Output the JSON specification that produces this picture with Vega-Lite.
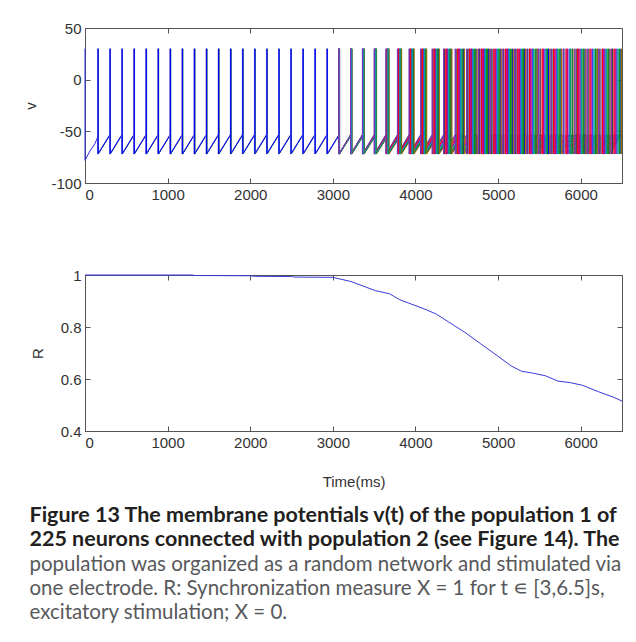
{
  "$schema": "https://vega.github.io/schema/vega-lite/v6.json",
  "padding": {"left": 23, "top": 20, "right": 8, "bottom": 4},
  "background": "white",
  "spacing": 64,
  "config": {
    "font": "Liberation Sans",
    "view": {"stroke": "#555", "strokeWidth": 1},
    "axis": {"domainColor": "#555", "tickColor": "#555", "tickSize": -5, "labelColor": "#333", "labelFont": "Liberation Sans", "labelFontSize": 15, "titleFont": "Liberation Sans", "titleFontSize": 15, "titleFontWeight": "normal", "titleColor": "#333", "grid": false, "labelPadding": 9}
  },
  "title": {
    "text": ["Figure 13 The membrane potentials v(t) of the population 1 of", "225 neurons connected with population 2 (see Figure 14). The"],
    "subtitle": ["population was organized as a random network and stimulated via", "one electrode. R: Synchronization measure X = 1 for t ∊  [3,6.5]s,", "excitatory stimulation; X = 0."],
    "orient": "bottom", "anchor": "start", "frame": "bounds", "offset": 15, "dx": 6,
    "font": "Lato", "fontSize": 21.5, "fontWeight": "bold", "color": "#231f20", "lineHeight": 24,
    "subtitleFont": "Lato", "subtitleFontSize": 20.5, "subtitleFontWeight": "normal", "subtitleColor": "#58595b", "subtitleLineHeight": 24, "subtitlePadding": 5
  },
  "datasets": {
    "init": [{"t": 0, "v": 30}, {"t": 0, "v": -78}, {"t": 60, "v": -69}, {"t": 120, "v": -62}, {"t": 157, "v": -55}],
    "r": [
      {"t": 0, "R": 1.0}, {"t": 1300, "R": 1.0}, {"t": 1330, "R": 0.998}, {"t": 2000, "R": 0.997}, {"t": 2050, "R": 0.995}, {"t": 2500, "R": 0.994}, {"t": 2540, "R": 0.992}, {"t": 3000, "R": 0.991},
      {"t": 3219, "R": 0.975}, {"t": 3513, "R": 0.94}, {"t": 3686, "R": 0.928}, {"t": 3808, "R": 0.905}, {"t": 4103, "R": 0.87}, {"t": 4251, "R": 0.85}, {"t": 4398, "R": 0.82},
      {"t": 4595, "R": 0.78}, {"t": 4791, "R": 0.735}, {"t": 4988, "R": 0.69}, {"t": 5160, "R": 0.65}, {"t": 5283, "R": 0.63}, {"t": 5430, "R": 0.622}, {"t": 5577, "R": 0.612},
      {"t": 5725, "R": 0.592}, {"t": 5872, "R": 0.586}, {"t": 6020, "R": 0.576}, {"t": 6216, "R": 0.551}, {"t": 6413, "R": 0.528}, {"t": 6500, "R": 0.515}
    ],
    "spikes": [
      {"n":1,"t":157},{"n":1,"t":303},{"n":1,"t":449},{"n":1,"t":595},{"n":1,"t":741},{"n":1,"t":887},{"n":1,"t":1033},{"n":1,"t":1179},{"n":1,"t":1325},{"n":1,"t":1471},{"n":1,"t":1617},{"n":1,"t":1763},{"n":1,"t":1909},{"n":1,"t":2055},{"n":1,"t":2201},{"n":1,"t":2347},{"n":1,"t":2493},{"n":1,"t":2639},{"n":1,"t":2785},{"n":1,"t":2931},
      {"n":1,"t":3077},{"n":1,"t":3222},{"n":1,"t":3368},{"n":1,"t":3514},{"n":1,"t":3659},{"n":1,"t":3805},{"n":1,"t":3950},{"n":1,"t":4096},{"n":1,"t":4241},{"n":1,"t":4387},{"n":1,"t":4532},{"n":1,"t":4677},{"n":1,"t":4823},{"n":1,"t":4972},{"n":1,"t":5113},{"n":1,"t":5262},{"n":1,"t":5411},{"n":1,"t":5552},{"n":1,"t":5701},{"n":1,"t":5842},{"n":1,"t":5991},{"n":1,"t":6140},{"n":1,"t":6284},{"n":1,"t":6427},
      {"n":2,"t":160},{"n":2,"t":306},{"n":2,"t":452},{"n":2,"t":598},{"n":2,"t":744},{"n":2,"t":890},{"n":2,"t":1036},{"n":2,"t":1182},{"n":2,"t":1328},{"n":2,"t":1474},{"n":2,"t":1620},{"n":2,"t":1766},{"n":2,"t":1912},{"n":2,"t":2058},{"n":2,"t":2204},{"n":2,"t":2350},{"n":2,"t":2496},{"n":2,"t":2642},{"n":2,"t":2788},{"n":2,"t":2934},
      {"n":2,"t":3079},{"n":2,"t":3226},{"n":2,"t":3374},{"n":2,"t":3521},{"n":2,"t":3669},{"n":2,"t":3818},{"n":2,"t":3967},{"n":2,"t":4116},{"n":2,"t":4265},{"n":2,"t":4414},{"n":2,"t":4563},{"n":2,"t":4712},{"n":2,"t":4859},{"n":2,"t":5008},{"n":2,"t":5148},{"n":2,"t":5298},{"n":2,"t":5448},{"n":2,"t":5587},{"n":2,"t":5737},{"n":2,"t":5877},{"n":2,"t":6027},{"n":2,"t":6177},{"n":2,"t":6318},{"n":2,"t":6466},
      {"n":3,"t":154},{"n":3,"t":300},{"n":3,"t":446},{"n":3,"t":592},{"n":3,"t":738},{"n":3,"t":884},{"n":3,"t":1030},{"n":3,"t":1176},{"n":3,"t":1322},{"n":3,"t":1468},{"n":3,"t":1614},{"n":3,"t":1760},{"n":3,"t":1906},{"n":3,"t":2052},{"n":3,"t":2198},{"n":3,"t":2344},{"n":3,"t":2490},{"n":3,"t":2636},{"n":3,"t":2782},{"n":3,"t":2928},
      {"n":3,"t":3075},{"n":3,"t":3219},{"n":3,"t":3363},{"n":3,"t":3507},{"n":3,"t":3649},{"n":3,"t":3792},{"n":3,"t":3934},{"n":3,"t":4076},{"n":3,"t":4218},{"n":3,"t":4359},{"n":3,"t":4501},{"n":3,"t":4643},{"n":3,"t":4787},{"n":3,"t":4930},{"n":3,"t":5082},{"n":3,"t":5223},{"n":3,"t":5373},{"n":3,"t":5512},{"n":3,"t":5664},{"n":3,"t":5808},{"n":3,"t":5959},{"n":3,"t":6099},{"n":3,"t":6247},{"n":3,"t":6389},
      {"n":4,"t":158},{"n":4,"t":304},{"n":4,"t":450},{"n":4,"t":596},{"n":4,"t":742},{"n":4,"t":888},{"n":4,"t":1034},{"n":4,"t":1180},{"n":4,"t":1326},{"n":4,"t":1472},{"n":4,"t":1618},{"n":4,"t":1764},{"n":4,"t":1910},{"n":4,"t":2056},{"n":4,"t":2202},{"n":4,"t":2348},{"n":4,"t":2494},{"n":4,"t":2640},{"n":4,"t":2786},{"n":4,"t":2932},
      {"n":4,"t":3080},{"n":4,"t":3228},{"n":4,"t":3377},{"n":4,"t":3526},{"n":4,"t":3676},{"n":4,"t":3826},{"n":4,"t":3977},{"n":4,"t":4129},{"n":4,"t":4280},{"n":4,"t":4432},{"n":4,"t":4583},{"n":4,"t":4734},{"n":4,"t":4883},{"n":4,"t":5032},{"n":4,"t":5173},{"n":4,"t":5322},{"n":4,"t":5472},{"n":4,"t":5612},{"n":4,"t":5761},{"n":4,"t":5901},{"n":4,"t":6052},{"n":4,"t":6201},{"n":4,"t":6343},{"n":4,"t":6487},
      {"n":5,"t":3076},{"n":5,"t":3221},{"n":5,"t":3366},{"n":5,"t":3511},{"n":5,"t":3656},{"n":5,"t":3801},{"n":5,"t":3945},{"n":5,"t":4089},{"n":5,"t":4233},{"n":5,"t":4377},{"n":5,"t":4522},{"n":5,"t":4666},{"n":5,"t":4811},{"n":5,"t":4960},{"n":5,"t":5100},{"n":5,"t":5250},{"n":5,"t":5394},{"n":5,"t":5545},{"n":5,"t":5685},{"n":5,"t":5835},{"n":5,"t":5975},{"n":5,"t":6125},{"n":5,"t":6274},{"n":5,"t":6416},
      {"n":6,"t":3080},{"n":6,"t":3230},{"n":6,"t":3379},{"n":6,"t":3528},{"n":6,"t":3679},{"n":6,"t":3831},{"n":6,"t":3983},{"n":6,"t":4135},{"n":6,"t":4288},{"n":6,"t":4441},{"n":6,"t":4593},{"n":6,"t":4746},{"n":6,"t":4895},{"n":6,"t":5038},{"n":6,"t":5190},{"n":6,"t":5332},{"n":6,"t":5475},{"n":6,"t":5627},{"n":6,"t":5769},{"n":6,"t":5921},{"n":6,"t":6063},{"n":6,"t":6204},{"n":6,"t":6356},{"n":6,"t":6496},
      {"n":7,"t":3074},{"n":7,"t":3218},{"n":7,"t":3361},{"n":7,"t":3504},{"n":7,"t":3646},{"n":7,"t":3788},{"n":7,"t":3929},{"n":7,"t":4069},{"n":7,"t":4210},{"n":7,"t":4350},{"n":7,"t":4491},{"n":7,"t":4632},{"n":7,"t":4775},{"n":7,"t":4924},{"n":7,"t":5064},{"n":7,"t":5214},{"n":7,"t":5357},{"n":7,"t":5509},{"n":7,"t":5650},{"n":7,"t":5793},{"n":7,"t":5945},{"n":7,"t":6089},{"n":7,"t":6232},{"n":7,"t":6384},
      {"n":8,"t":3077},{"n":8,"t":3224},{"n":8,"t":3370},{"n":8,"t":3516},{"n":8,"t":3663},{"n":8,"t":3809},{"n":8,"t":3956},{"n":8,"t":4102},{"n":8,"t":4249},{"n":8,"t":4395},{"n":8,"t":4542},{"n":8,"t":4689},{"n":8,"t":4835},{"n":8,"t":4984},{"n":8,"t":5125},{"n":8,"t":5274},{"n":8,"t":5416},{"n":8,"t":5567},{"n":8,"t":5710},{"n":8,"t":5861},{"n":8,"t":6003},{"n":8,"t":6145},{"n":8,"t":6296},{"n":8,"t":6439},
      {"n":9,"t":3079},{"n":9,"t":3227},{"n":9,"t":3375},{"n":9,"t":3523},{"n":9,"t":3673},{"n":9,"t":3822},{"n":9,"t":3972},{"n":9,"t":4122},{"n":9,"t":4272},{"n":9,"t":4423},{"n":9,"t":4573},{"n":9,"t":4723},{"n":9,"t":4871},{"n":9,"t":5014},{"n":9,"t":5166},{"n":9,"t":5308},{"n":9,"t":5457},{"n":9,"t":5597},{"n":9,"t":5748},{"n":9,"t":5898},{"n":9,"t":6037},{"n":9,"t":6185},{"n":9,"t":6334},{"n":9,"t":6474},
      {"n":10,"t":3075},{"n":10,"t":3220},{"n":10,"t":3364},{"n":10,"t":3509},{"n":10,"t":3653},{"n":10,"t":3796},{"n":10,"t":3939},{"n":10,"t":4082},{"n":10,"t":4225},{"n":10,"t":4368},{"n":10,"t":4511},{"n":10,"t":4654},{"n":10,"t":4799},{"n":10,"t":4948},{"n":10,"t":5088},{"n":10,"t":5238},{"n":10,"t":5382},{"n":10,"t":5533},{"n":10,"t":5673},{"n":10,"t":5823},{"n":10,"t":5963},{"n":10,"t":6113},{"n":10,"t":6262},{"n":10,"t":6404},
      {"n":11,"t":3078},{"n":11,"t":3225},{"n":11,"t":3372},{"n":11,"t":3519},{"n":11,"t":3666},{"n":11,"t":3813},{"n":11,"t":3961},{"n":11,"t":4109},{"n":11,"t":4257},{"n":11,"t":4405},{"n":11,"t":4552},{"n":11,"t":4700},{"n":11,"t":4847},{"n":11,"t":4996},{"n":11,"t":5136},{"n":11,"t":5286},{"n":11,"t":5430},{"n":11,"t":5581},{"n":11,"t":5721},{"n":11,"t":5871},{"n":11,"t":6011},{"n":11,"t":6161},{"n":11,"t":6310},{"n":11,"t":6452},
      {"n":12,"t":3074},{"n":12,"t":3216},{"n":12,"t":3359},{"n":12,"t":3502},{"n":12,"t":3643},{"n":12,"t":3783},{"n":12,"t":3923},{"n":12,"t":4063},{"n":12,"t":4202},{"n":12,"t":4341},{"n":12,"t":4481},{"n":12,"t":4620},{"n":12,"t":4763},{"n":12,"t":4906},{"n":12,"t":5058},{"n":12,"t":5200},{"n":12,"t":5349},{"n":12,"t":5489},{"n":12,"t":5640},{"n":12,"t":5789},{"n":12,"t":5929},{"n":12,"t":6077},{"n":12,"t":6218},{"n":12,"t":6371}
    ]
  },
  "vconcat": [
    {
      "width": 537, "height": 155,
      "resolve": {"axis": {"x": "independent", "y": "independent"}},
      "layer": [
        {
          "data": {"name": "spikes"},
          "transform": [
            {"window": [{"op": "lead", "field": "t", "as": "tn"}], "groupby": ["n"], "sort": [{"field": "t"}]},
            {"filter": "datum.tn != null"}
          ],
          "mark": {"type": "rule", "strokeWidth": 1, "clip": true},
          "encoding": {
            "x": {"field": "t", "type": "quantitative", "scale": {"domain": [0, 6500], "nice": false, "zero": false}, "axis": {"orient": "bottom", "values": [0, 1000, 2000, 3000, 4000, 5000, 6000], "format": "d", "title": null}},
            "x2": {"field": "tn"},
            "y": {"datum": -72, "type": "quantitative", "scale": {"domain": [-100, 50], "nice": false, "zero": false}, "axis": {"orient": "left", "values": [-100, -50, 0, 50], "labelExpr": "'' + datum.value", "title": "v", "titlePadding": 12}},
            "y2": {"datum": -53},
            "color": {"field": "n", "type": "nominal", "legend": null, "scale": {"range": ["#e00000", "#00a000", "#9090ff", "#0000ff", "#bf00bf", "#a07000", "#404040", "#4040ff", "#208020", "#ff0000", "#00a0a0", "#8030c0"]}}
          }
        },
        {
          "data": {"name": "spikes"},
          "mark": {"type": "rule", "strokeWidth": 1.3, "clip": true},
          "encoding": {
            "x": {"field": "t", "type": "quantitative", "axis": {"orient": "top", "values": [0, 1000, 2000, 3000, 4000, 5000, 6000], "labels": false, "domain": false, "title": null}},
            "y": {"datum": -72, "type": "quantitative", "axis": {"orient": "right", "values": [-100, -50, 0, 50], "labels": false, "domain": false, "title": null}},
            "y2": {"datum": 30},
            "color": {"field": "n", "type": "nominal", "legend": null}
          }
        },
        {
          "data": {"name": "init"},
          "mark": {"type": "line", "color": "#2a2ae0", "strokeWidth": 1},
          "encoding": {
            "x": {"field": "t", "type": "quantitative", "axis": null},
            "y": {"field": "v", "type": "quantitative", "axis": null},
            "order": {"value": 0}
          }
        }
      ]
    },
    {
      "width": 537, "height": 156,
      "data": {"name": "r"},
      "resolve": {"axis": {"x": "independent", "y": "independent"}},
      "layer": [
        {
          "mark": {"type": "line", "color": "#3a3ad8", "strokeWidth": 1},
          "encoding": {
            "x": {"field": "t", "type": "quantitative", "scale": {"domain": [0, 6500], "nice": false, "zero": false}, "axis": {"orient": "bottom", "values": [0, 1000, 2000, 3000, 4000, 5000, 6000], "format": "d", "title": "Time(ms)", "titlePadding": 24}},
            "y": {"field": "R", "type": "quantitative", "scale": {"domain": [0.4, 1], "nice": false, "zero": false}, "axis": {"orient": "left", "values": [0.4, 0.6, 0.8, 1], "labelExpr": "'' + datum.value", "title": "R", "titlePadding": 15}}
          }
        },
        {
          "mark": {"type": "line", "strokeOpacity": 0},
          "encoding": {
            "x": {"field": "t", "type": "quantitative", "axis": {"orient": "top", "values": [0, 1000, 2000, 3000, 4000, 5000, 6000], "labels": false, "domain": false, "title": null}},
            "y": {"field": "R", "type": "quantitative", "axis": {"orient": "right", "values": [0.4, 0.6, 0.8, 1], "labels": false, "domain": false, "title": null}}
          }
        }
      ]
    }
  ]
}
